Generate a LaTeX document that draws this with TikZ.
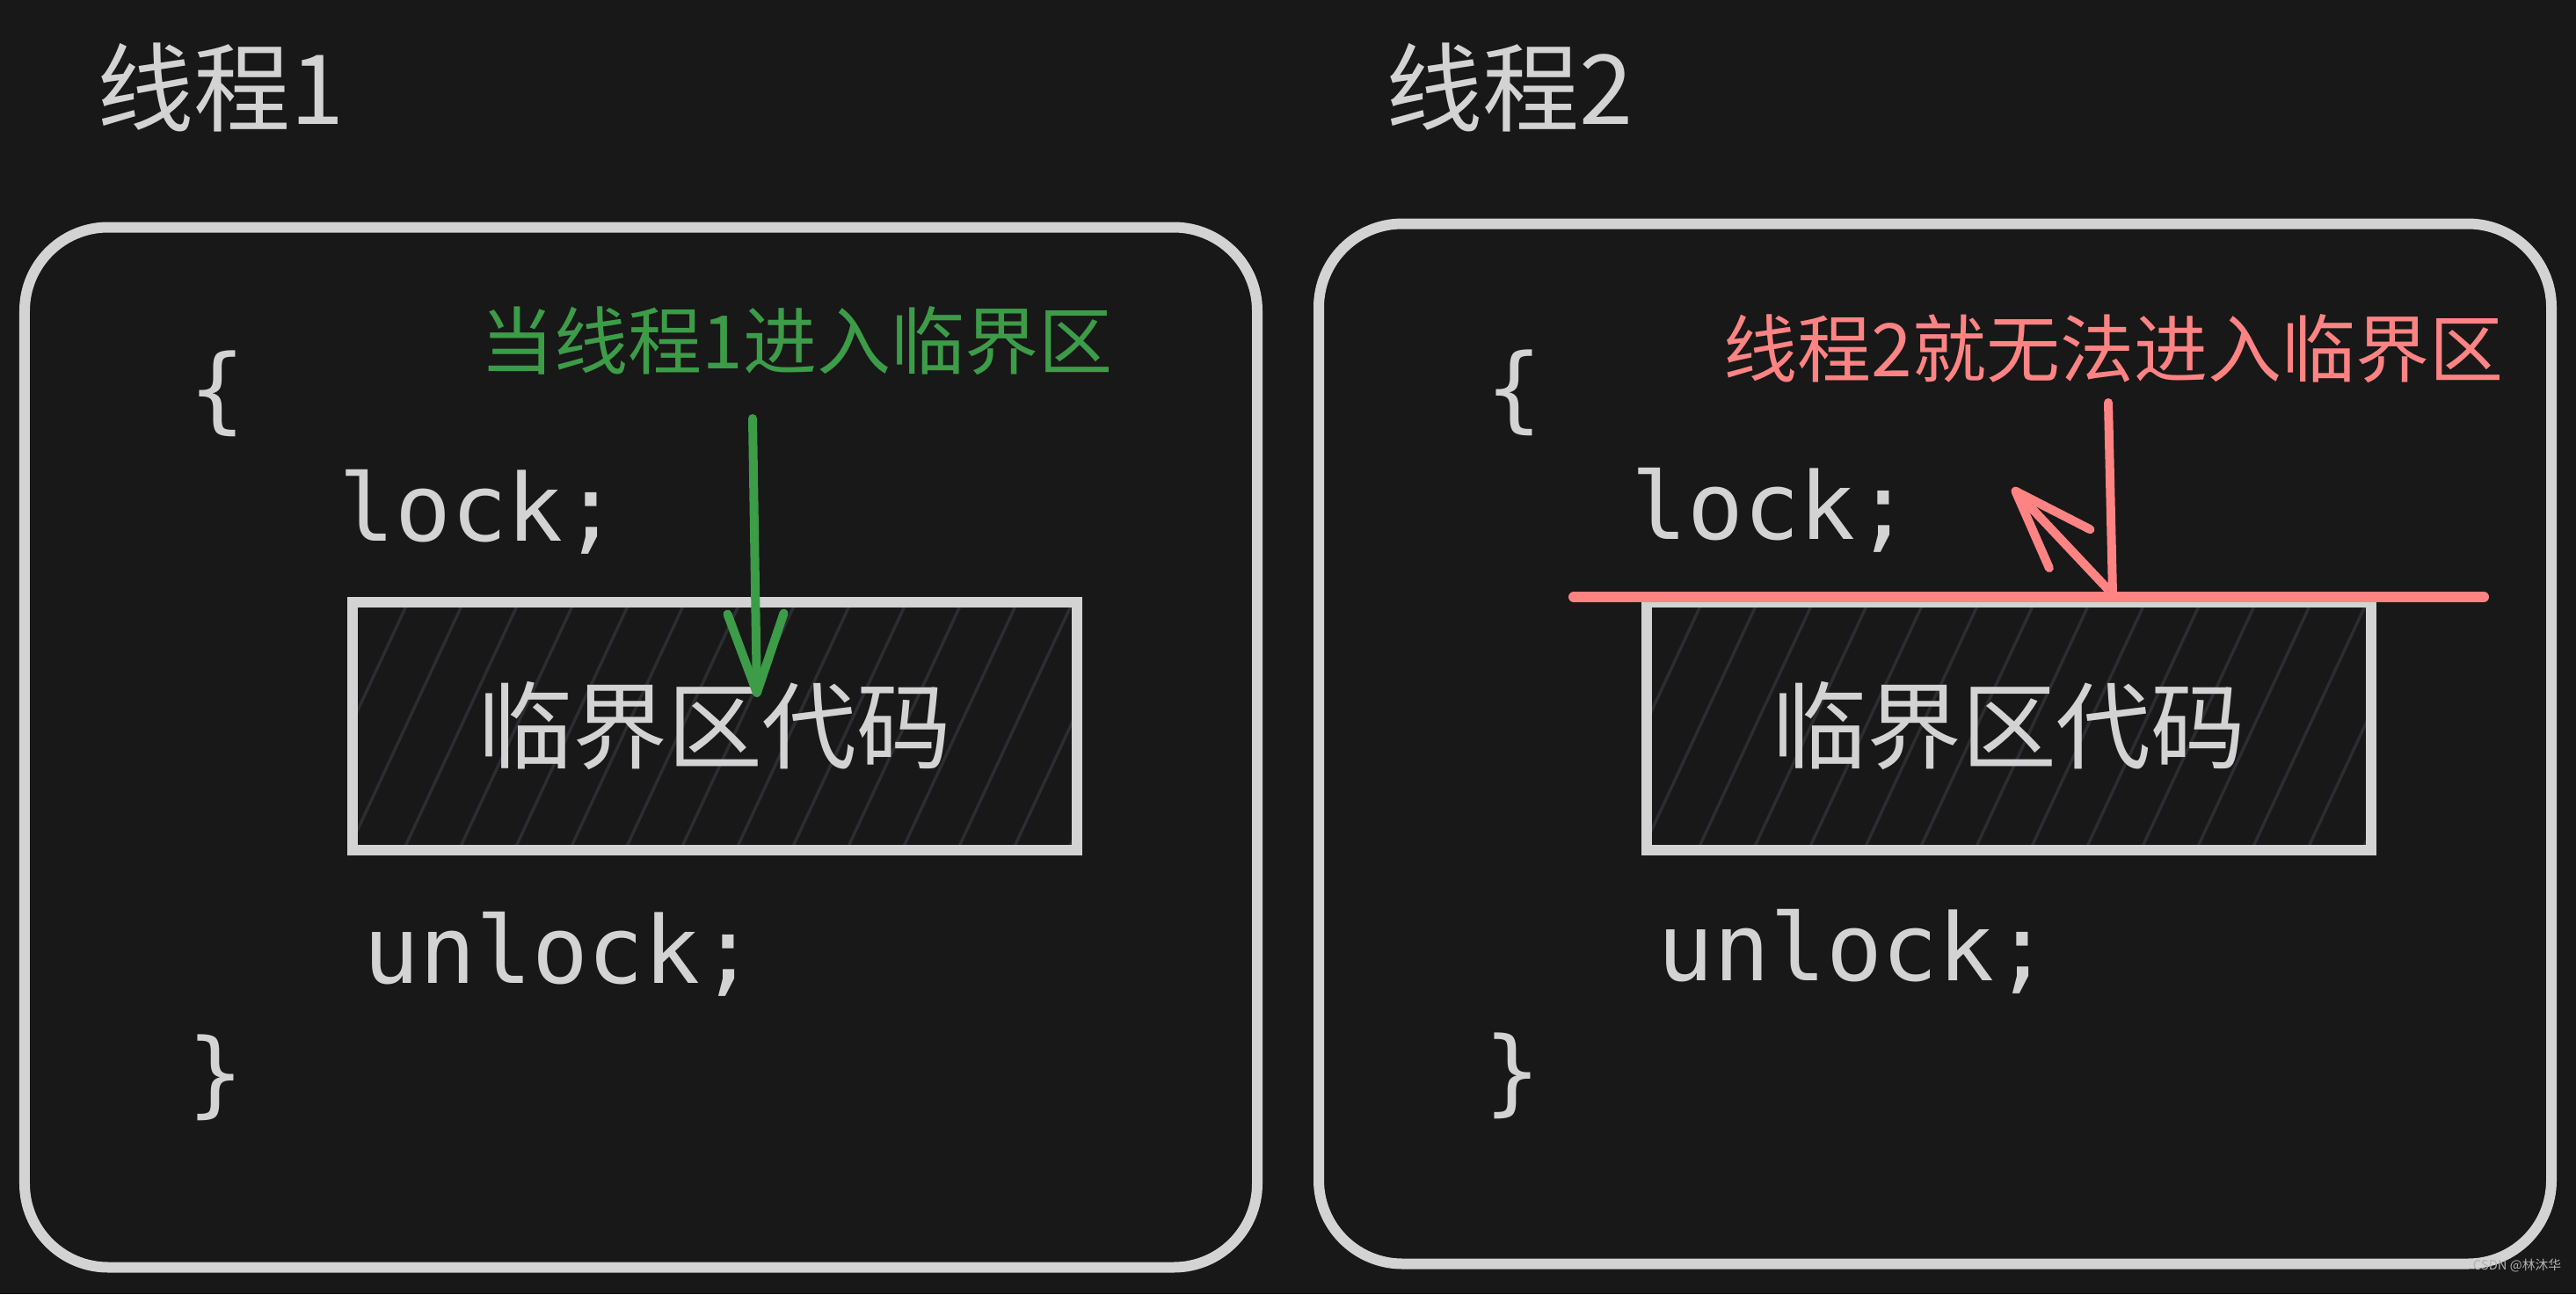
\documentclass[tikz,border=0pt]{standalone}
\usepackage{fontspec}
\usepackage{tikz}
\usetikzlibrary{arrows.meta,positioning,calc}
\newfontfamily\cjk{Noto Sans CJK SC}
\newfontfamily\codefont{DejaVu Sans Mono}
\definecolor{bgdark}{HTML}{181818}
\definecolor{inkgray}{HTML}{D3D3D3}
\definecolor{hatchgray}{HTML}{2C2C31}
\definecolor{okgreen}{HTML}{3C9C48}
\definecolor{blockred}{HTML}{FF8383}
\definecolor{markgray}{HTML}{B0B0B0}

\begin{document}
\begin{tikzpicture}[
        panel/.style={draw=inkgray, line width=0.12cm, rounded corners=0.95cm, minimum width=14.02cm, minimum height=11.83cm, inner sep=0},
        critbox/.style={draw=inkgray, line width=0.12cm, minimum width=8.24cm, minimum height=2.82cm, inner sep=0, text=inkgray,
            font=\cjk\fontsize{30.7}{36}\selectfont,
            path picture={
                \foreach \k in {0,...,16}
                    \draw[hatchgray, line width=0.035cm] ($(path picture bounding box.south west)+(\k*0.63-1.31,0)$) -- ++(1.31,2.82);
            }},
        title/.style={text=inkgray, inner sep=0, font=\cjk\fontsize{31.3}{36}\selectfont},
        code/.style={text=inkgray, inner sep=0, font=\codefont\fontsize{30.2}{36}\selectfont},
        note/.style={inner sep=0, font=\cjk\fontsize{23.9}{28}\selectfont},
        sketch/.style={line width=0.1cm, line cap=round, line join=round, -{Straight Barb[length=0.9cm,width=0.64cm,round]}}
    ]
        \fill[bgdark] (0,0) rectangle (29.30,-14.72);
        \useasboundingbox (0,0) rectangle (29.30,-14.72);

        % thread 1
        \node[title] (t1) at (2.51,-0.99) {线程1};
        \node[panel] (box1) at (7.29,-8.50) {};
        \node[code] (open1) at (2.47,-4.48) {\{};
        \node[code] (lock1) at (5.45,-5.82) {lock;};
        \node[critbox] (crit1) at (8.13,-8.26) {临界区代码};
        \node[code] (unlock1) at (6.37,-10.85) {unlock;};
        \node[code] (close1) at (2.45,-12.26) {\}};
        \node[note, text=okgreen] (enter) at (9.06,-3.88) {当线程1进入临界区};
        \coordinate (enterfrom) at (8.56,-4.76);
        \coordinate (enterto) at (8.61,-7.93);
        \draw[sketch, okgreen] (enterfrom) -- (enterto);

        % thread 2
        \node[title] (t2) at (17.17,-0.99) {线程2};
        \node[panel] (box2) at (22.01,-8.46) {};
        \node[code] (open2) at (17.22,-4.47) {\{};
        \node[code] (lock2) at (20.15,-5.80) {lock;};
        \node[critbox] (crit2) at (22.85,-8.26) {临界区代码};
        \node[code] (unlock2) at (21.09,-10.82) {unlock;};
        \node[code] (close2) at (17.20,-12.24) {\}};
        \node[note, text=blockred] (blocked) at (24.04,-3.97) {线程2就无法进入临界区};
        \coordinate (barleft) at (17.90,-6.79);
        \coordinate (barright) at (28.25,-6.79);
        \coordinate (tryfrom) at (23.98,-4.58);
        \coordinate (tryhit) at (24.03,-6.76);
        \coordinate (tryback) at (22.89,-5.55);
        \draw[blockred, line width=0.12cm, line cap=round] (barleft) -- (barright);
        \draw[sketch, blockred] (tryfrom) -- (tryhit) -- (tryback);

        \node[font=\cjk\fontsize{4.2}{5}\selectfont, text=markgray, inner sep=0] (mark) at (28.63,-14.40) {CSDN @林沐华};
    \end{tikzpicture}
\end{document}
